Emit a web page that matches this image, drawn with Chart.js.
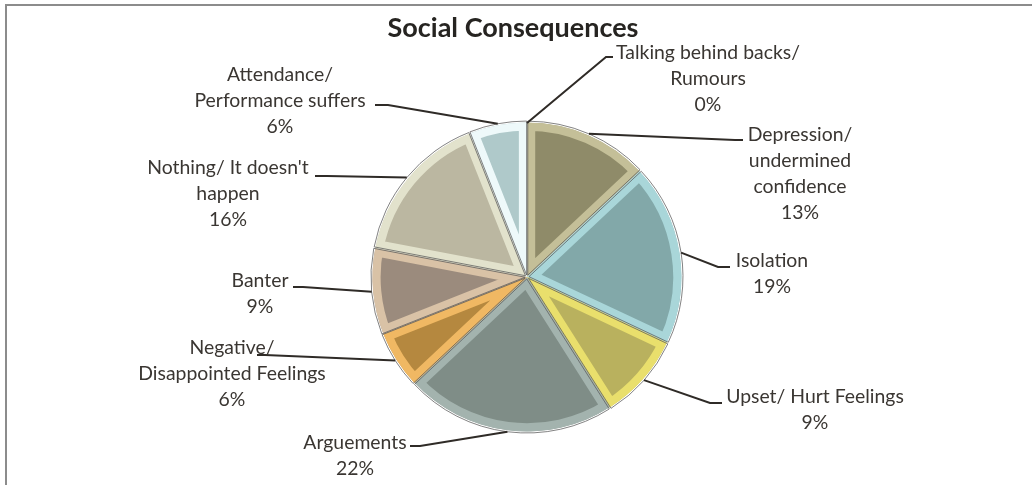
<!DOCTYPE html>
<html>
<head>
<meta charset="utf-8">
<script src="https://cdn.jsdelivr.net/npm/chart.js@4/dist/chart.umd.min.js"></script>
<style>
html,body{margin:0;padding:0;background:#fff;}
#wrap{position:relative;width:1032px;height:485px;}
#frame{position:absolute;left:5px;top:4px;right:-10px;bottom:-10px;border-top:2px solid #8c8c8c;border-left:2px solid #8c8c8c;box-sizing:border-box;pointer-events:none;}
canvas{position:absolute;left:0;top:0;}
</style>
</head>
<body>
<div id="wrap">
<canvas id="c" width="1032" height="485"></canvas>
<div id="frame"></div>
</div>
<script>
// ---- data ----
const title = "Social Consequences";
const categories = [
  ["Talking behind backs/", "Rumours"],
  ["Depression/", "undermined", "confidence"],
  ["Isolation"],
  ["Upset/ Hurt Feelings"],
  ["Arguements"],
  ["Negative/", "Disappointed Feelings"],
  ["Banter"],
  ["Nothing/ It doesn't", "happen"],
  ["Attendance/", "Performance suffers"]
];
const values = [0, 13, 19, 9, 22, 6, 9, 16, 6];

// ---- style ----
const fillColors = ["#e4dc8c", "#8f8b69", "#82a8a9", "#b9b15e", "#7f8d87", "#b5883f", "#9b8b7d", "#bbb7a1", "#afc9ca"];
const bevelColors = ["#f0ec9c", "#c4bf98", "#a9d6d9", "#e9df6c", "#a3b3ae", "#f0b863", "#d9c2a6", "#e2e2cc", "#eef9fa"];
// label layout relative to pie centre: text centre x, first line y, leader elbow (x,y), leader tail x
const labelLayout = [
  {tx:181, ty:-224, ex:79,   ey:-220, hx:86},
  {tx:273, ty:-142, ex:208,  ey:-137, hx:216},
  {tx:245, ty:-16,  ex:191,  ey:-10,  hx:203},
  {tx:288, ty:120,  ex:183,  ey:126,  hx:195},
  {tx:-172,ty:166,  ex:-107, ey:169,  hx:-117},
  {tx:-295,ty:71,   ex:-262, ey:78,   hx:-270},
  {tx:-267,ty:4,    ex:-224, ey:10,   hx:-234},
  {tx:-299,ty:-109, ex:-200, ey:-101, hx:-212},
  {tx:-247,ty:-202, ex:-139, ey:-172, hx:-152}
];
const LABEL_FONT = "19.4px Lato";
const LINE_H = 26;
const OFFSET = 2;

const total = values.reduce((a,b)=>a+b,0);

const outlinePlugin = {
  id:'outline',
  afterDatasetsDraw(chart){
    const ctx = chart.ctx;
    const meta = chart.getDatasetMeta(0);
    ctx.save();
    meta.data.forEach((arc,i)=>{
      if (values[i] === 0) return;
      const p = arc.getProps(['x','y','startAngle','endAngle','outerRadius'], true);
      const mid = (p.startAngle+p.endAngle)/2;
      const cx = p.x + Math.cos(mid)*OFFSET, cy = p.y + Math.sin(mid)*OFFSET;
      ctx.beginPath();
      ctx.moveTo(cx,cy);
      ctx.arc(cx,cy,p.outerRadius,p.startAngle,p.endAngle);
      ctx.closePath();
      ctx.strokeStyle = "rgba(90,90,90,0.75)";
      ctx.lineWidth = 1;
      ctx.stroke();
    });
    ctx.restore();
  },
  afterDraw(chart){
    const ctx = chart.ctx;
    const meta = chart.getDatasetMeta(0);
    const first = meta.data[0];
    const cx0 = first.x, cy0 = first.y;
    ctx.save();
    // title
    ctx.fillStyle = "#262421";
    ctx.font = "bold 27px Lato";
    ctx.textAlign = "center";
    ctx.textBaseline = "middle";
    ctx.fillText(title, cx0 - 14, 28);
    // labels + leaders
    meta.data.forEach((arc,i)=>{
      const p = arc.getProps(['x','y','startAngle','endAngle','outerRadius'], true);
      const mid = (p.startAngle+p.endAngle)/2;
      const r = p.outerRadius + (values[i] ? OFFSET : 0);
      const sx = p.x + Math.cos(mid)*r, sy = p.y + Math.sin(mid)*r;
      const L = labelLayout[i];
      ctx.beginPath();
      ctx.moveTo(sx, sy);
      ctx.lineTo(cx0 + L.ex, cy0 + L.ey);
      ctx.lineTo(cx0 + L.hx, cy0 + L.ey);
      ctx.strokeStyle = "#2f2b27";
      ctx.lineWidth = 2;
      ctx.stroke();
      const lines = categories[i].concat([Math.round(values[i]/total*100) + "%"]);
      ctx.fillStyle = "#3a3632";
      ctx.font = LABEL_FONT;
      ctx.textAlign = "center";
      ctx.textBaseline = "middle";
      lines.forEach((t,k)=>ctx.fillText(t, cx0 + L.tx, cy0 + L.ty + k*LINE_H));
    });
    ctx.restore();
  }
};

new Chart(document.getElementById('c'), {
  type:'pie',
  data:{
    labels: categories.map(c=>c.join(' ')),
    datasets:[{
      data: values,
      backgroundColor: fillColors,
      borderColor: bevelColors,
      borderWidth: 8,
      borderAlign: 'inner',
      offset: OFFSET
    }]
  },
  options:{
    responsive:false,
    animation:false,
    events:[],
    radius: 154,
    layout:{padding:{top:117, bottom:48, left:22, right:0}},
    plugins:{legend:{display:false}, tooltip:{enabled:false}, title:{display:false}}
  },
  plugins:[outlinePlugin]
});
</script>
</body>
</html>
